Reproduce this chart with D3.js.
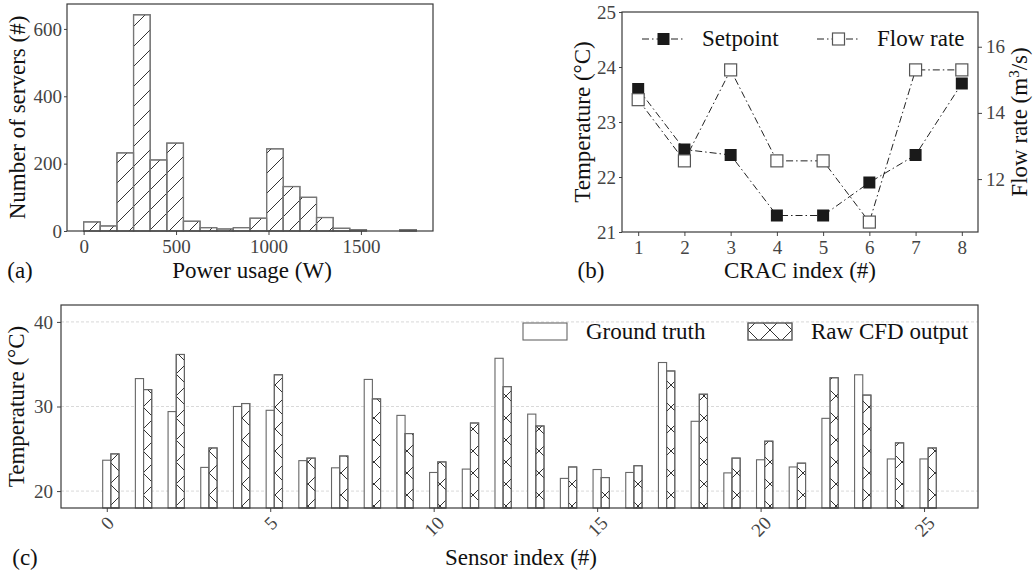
<!DOCTYPE html>
<html>
<head>
<meta charset="utf-8">
<script src="https://cdn.jsdelivr.net/npm/d3@7"></script>
<style>
  body { margin: 0; background: #fff; }
  svg text { font-family: "Liberation Serif", "DejaVu Serif", serif; }
</style>
</head>
<body>
<div id="chart"></div>
<script>
const width = 1035;
const height = 577;

// (a) histogram of server power
const powerBinEdges = [0, 90, 180, 270, 360, 450, 540, 630, 720, 810, 900, 990, 1080, 1170, 1260, 1350, 1440, 1530, 1620, 1710, 1800];
const serverCounts = [27, 15, 232, 642, 211, 261, 29, 10, 6, 10, 38, 244, 132, 100, 40, 8, 4, 0, 0, 4];
const powerTicks = [0, 500, 1000, 1500];
const serverTicks = [0, 200, 400, 600];

// (b) CRAC setpoints and flow rates
const cracIndex = [1, 2, 3, 4, 5, 6, 7, 8];
const setpointTemp = [23.6, 22.5, 22.4, 21.3, 21.3, 21.9, 22.4, 23.7];
const flowRate = [14.4, 12.55, 15.3, 12.55, 12.55, 10.7, 15.3, 15.3];
const tempTicksB = [21, 22, 23, 24, 25];
const flowTicks = [12, 14, 16];

// (c) sensor temperatures
const sensorIndex = [0, 1, 2, 3, 4, 5, 6, 7, 8, 9, 10, 11, 12, 13, 14, 15, 16, 17, 18, 19, 20, 21, 22, 23, 24, 25];
const groundTruth = [23.65, 33.3, 29.4, 22.8, 30.0, 29.55, 23.6, 22.75, 33.2, 28.95, 22.2, 22.6, 35.7, 29.1, 21.5, 22.55, 22.2, 35.2, 28.25, 22.15, 23.7, 22.85, 28.6, 33.75, 23.8, 23.8];
const rawCfd = [24.4, 32.0, 36.15, 25.1, 30.35, 33.75, 23.9, 24.15, 30.9, 26.8, 23.45, 28.05, 32.35, 27.7, 22.85, 21.6, 23.0, 34.2, 31.45, 23.9, 25.9, 23.3, 33.4, 31.35, 25.7, 25.1];
const sensorTicks = [0, 5, 10, 15, 20, 25];
const tempTicksC = [20, 30, 40];

const tickFont = 19;
const labelFont = 23;
const tickColor = "#444";
const frameColor = "#3a3a3a";
const intFmt = d3.format("d");

const svg = d3
  .select("#chart")
  .append("svg")
  .attr("width", width)
  .attr("height", height);

const defs = svg.append("defs");
defs
  .append("pattern")
  .attr("id", "hatch-slash")
  .attr("patternUnits", "userSpaceOnUse")
  .attr("width", 20)
  .attr("height", 20)
  .append("path")
  .attr("d", "M-5,5L5,-5M0,20L20,0M15,25L25,15")
  .attr("stroke", "#333")
  .attr("stroke-width", 1);
defs
  .append("pattern")
  .attr("id", "hatch-cross")
  .attr("patternUnits", "userSpaceOnUse")
  .attr("width", 22)
  .attr("height", 22)
  .append("path")
  .attr("d", "M0,0L22,22M22,0L0,22")
  .attr("stroke", "#333")
  .attr("stroke-width", 1);

function styleAxis(g) {
  g.attr("font-family", null);
  g.select(".domain").remove();
  g.selectAll(".tick line").attr("stroke", tickColor);
  g.selectAll(".tick text")
    .attr("fill", tickColor)
    .style("font-size", `${tickFont}px`);
}

function frame(g, box) {
  g.append("rect")
    .attr("x", box.left)
    .attr("y", box.top)
    .attr("width", box.right - box.left)
    .attr("height", box.bottom - box.top)
    .attr("fill", "none")
    .attr("stroke", frameColor)
    .attr("stroke-width", 1.2);
}

function label(g, txt, x, y, rotate = false) {
  const t = g
    .append("text")
    .attr("fill", "#111")
    .style("font-size", `${labelFont}px`)
    .attr("text-anchor", "middle");
  if (rotate) t.attr("transform", `translate(${x},${y}) rotate(-90)`);
  else t.attr("x", x).attr("y", y);
  t.text(txt);
  return t;
}

// ---------- (a) ----------
const boxA = { left: 67, right: 433, top: 4, bottom: 231 };
const xA = d3.scaleLinear().domain([-90, 1890]).range([boxA.left, boxA.right]);
const yA = d3.scaleLinear().domain([0, 674]).range([boxA.bottom, boxA.top]);
const gA = svg.append("g");

const bins = serverCounts.map((c, i) => ({ x0: powerBinEdges[i], x1: powerBinEdges[i + 1], count: c }));
["#fff", "url(#hatch-slash)"].forEach((fill) => {
  gA.append("g")
    .selectAll("rect")
    .data(bins)
    .join("rect")
    .attr("x", (d) => xA(d.x0))
    .attr("y", (d) => yA(d.count))
    .attr("width", (d) => xA(d.x1) - xA(d.x0))
    .attr("height", (d) => yA(0) - yA(d.count))
    .attr("fill", fill)
    .attr("stroke", "#777")
    .attr("stroke-width", 1.2);
});

gA.append("g")
  .attr("transform", `translate(0,${boxA.bottom})`)
  .call(d3.axisBottom(xA).tickValues(powerTicks).tickFormat(intFmt).tickSize(4).tickPadding(5))
  .call(styleAxis);
gA.append("g")
  .attr("transform", `translate(${boxA.left},0)`)
  .call(d3.axisLeft(yA).tickValues(serverTicks).tickFormat(intFmt).tickSize(3).tickPadding(2))
  .call(styleAxis);
frame(gA, boxA);
label(gA, "Number of servers (#)", 25, (boxA.top + boxA.bottom) / 2, true);
label(gA, "Power usage (W)", 252, 278);
label(gA, "(a)", 20, 278);

// ---------- (b) ----------
const boxB = { left: 622, right: 978, top: 12, bottom: 232 };
const xB = d3.scaleLinear().domain([0.65, 8.35]).range([boxB.left, boxB.right]);
const yB = d3.scaleLinear().domain([21, 25]).range([boxB.bottom, boxB.top]);
const yB2 = d3.scaleLinear().domain([10.4, 17.05]).range([boxB.bottom, boxB.top]);
const gB = svg.append("g");
const dashDot = "7,3,1.5,3";
const msize = 12;

const setLine = d3.line().x((d, i) => xB(cracIndex[i])).y((d) => yB(d));
const flowLine = d3.line().x((d, i) => xB(cracIndex[i])).y((d) => yB2(d));

gB.append("path")
  .attr("d", setLine(setpointTemp))
  .attr("fill", "none")
  .attr("stroke", "#222")
  .attr("stroke-width", 1)
  .attr("stroke-dasharray", dashDot);
gB.append("g")
  .selectAll("rect")
  .data(setpointTemp)
  .join("rect")
  .attr("x", (d, i) => xB(cracIndex[i]) - msize / 2)
  .attr("y", (d) => yB(d) - msize / 2)
  .attr("width", msize)
  .attr("height", msize)
  .attr("fill", "#1a1a1a");

gB.append("path")
  .attr("d", flowLine(flowRate))
  .attr("fill", "none")
  .attr("stroke", "#222")
  .attr("stroke-width", 1)
  .attr("stroke-dasharray", dashDot);
gB.append("g")
  .selectAll("rect")
  .data(flowRate)
  .join("rect")
  .attr("x", (d, i) => xB(cracIndex[i]) - msize / 2)
  .attr("y", (d) => yB2(d) - msize / 2)
  .attr("width", msize)
  .attr("height", msize)
  .attr("fill", "#fff")
  .attr("stroke", "#555")
  .attr("stroke-width", 1.2);

gB.append("g")
  .attr("transform", `translate(0,${boxB.bottom})`)
  .call(d3.axisBottom(xB).tickValues(cracIndex).tickFormat(intFmt).tickSize(4).tickPadding(5))
  .call(styleAxis);
gB.append("g")
  .attr("transform", `translate(${boxB.left},0)`)
  .call(d3.axisLeft(yB).tickValues(tempTicksB).tickFormat(intFmt).tickSize(3).tickPadding(3))
  .call(styleAxis);
gB.append("g")
  .attr("transform", `translate(${boxB.right},0)`)
  .call(d3.axisRight(yB2).tickValues(flowTicks).tickFormat(intFmt).tickSize(4).tickPadding(4))
  .call(styleAxis);
frame(gB, boxB);

// legend (b)
const legB = [
  { name: "Setpoint", x: 642, filled: true },
  { name: "Flow rate", x: 817, filled: false },
];
legB.forEach((d) => {
  gB.append("line")
    .attr("x1", d.x)
    .attr("x2", d.x + 43)
    .attr("y1", 39)
    .attr("y2", 39)
    .attr("stroke", "#222")
    .attr("stroke-dasharray", dashDot);
  gB.append("rect")
    .attr("x", d.x + 21.5 - msize / 2)
    .attr("y", 39 - msize / 2)
    .attr("width", msize)
    .attr("height", msize)
    .attr("fill", d.filled ? "#1a1a1a" : "#fff")
    .attr("stroke", d.filled ? "none" : "#555")
    .attr("stroke-width", 1.2);
  gB.append("text")
    .attr("x", d.x + 60)
    .attr("y", 46)
    .attr("fill", "#111")
    .style("font-size", `${labelFont}px`)
    .text(d.name);
});

label(gB, "Temperature (°C)", 590, (boxB.top + boxB.bottom) / 2, true);
const flowLabel = label(gB, "", 1027, (boxB.top + boxB.bottom) / 2, true);
flowLabel.append("tspan").text("Flow rate (m");
flowLabel.append("tspan").attr("dy", -8).style("font-size", "15px").text("3");
flowLabel.append("tspan").attr("dy", 8).text("/s)");
label(gB, "CRAC index (#)", 800, 278);
label(gB, "(b)", 591, 278);

// ---------- (c) ----------
const boxC = { left: 61, right: 978, top: 305, bottom: 508 };
const xC = d3.scaleLinear().domain([-1.4, 26.65]).range([boxC.left, boxC.right]);
const yC = d3.scaleLinear().domain([18, 42]).range([boxC.bottom, boxC.top]);
const gC = svg.append("g");
const barW = 0.25;

gC.append("g")
  .selectAll("line")
  .data(tempTicksC)
  .join("line")
  .attr("x1", boxC.left)
  .attr("x2", boxC.right)
  .attr("y1", (d) => yC(d))
  .attr("y2", (d) => yC(d))
  .attr("stroke", "#cfcfcf")
  .attr("stroke-width", 0.8)
  .attr("stroke-dasharray", "3,2");

const series = [
  { values: groundTruth, offset: -barW / 2, fills: ["#fff"] },
  { values: rawCfd, offset: barW / 2, fills: ["#fff", "url(#hatch-cross)"] },
];
series.forEach((s) => {
  s.fills.forEach((fill) => {
    gC.append("g")
      .selectAll("rect")
      .data(s.values)
      .join("rect")
      .attr("x", (d, i) => xC(sensorIndex[i] + s.offset))
      .attr("y", (d) => yC(d))
      .attr("width", xC(barW) - xC(0))
      .attr("height", (d) => yC.range()[0] - yC(d))
      .attr("fill", fill)
      .attr("stroke", "#666")
      .attr("stroke-width", 1.1);
  });
});

gC.append("g")
  .attr("transform", `translate(0,${boxC.bottom})`)
  .call(d3.axisBottom(xC).tickValues(sensorTicks).tickFormat(intFmt).tickSize(4))
  .call(styleAxis)
  .call((g) =>
    g.selectAll(".tick text").each(function () {
      const t = d3.select(this);
      const w = this.getComputedTextLength();
      const cy = 7 + ((w + 13) * 0.7071) / 2;
      t.attr("y", 0)
        .attr("dy", null)
        .attr("text-anchor", "middle")
        .attr("dominant-baseline", "central")
        .attr("transform", `translate(0,${cy}) rotate(-45)`);
    })
  );
gC.append("g")
  .attr("transform", `translate(${boxC.left},0)`)
  .call(d3.axisLeft(yC).tickValues(tempTicksC).tickFormat(intFmt).tickSize(4).tickPadding(4))
  .call(styleAxis);
frame(gC, boxC);

// legend (c)
const legC = [
  { name: "Ground truth", x: 523, fill: null },
  { name: "Raw CFD output", x: 748, fill: "url(#hatch-cross)" },
];
legC.forEach((d) => {
  gC.append("rect")
    .attr("x", d.x)
    .attr("y", 323)
    .attr("width", 44)
    .attr("height", 17)
    .attr("fill", "#fff")
    .attr("stroke", "#666")
    .attr("stroke-width", 1.1);
  if (d.fill) {
    gC.append("rect")
      .attr("x", d.x)
      .attr("y", 323)
      .attr("width", 44)
      .attr("height", 17)
      .attr("fill", d.fill)
      .attr("stroke", "#666")
      .attr("stroke-width", 1.1);
  }
  gC.append("text")
    .attr("x", d.x + 63)
    .attr("y", 339)
    .attr("fill", "#111")
    .style("font-size", `${labelFont}px`)
    .text(d.name);
});

label(gC, "Temperature (°C)", 24, (boxC.top + boxC.bottom) / 2, true);
label(gC, "Sensor index (#)", 521, 565);
label(gC, "(c)", 25, 565);
</script>
</body>
</html>
